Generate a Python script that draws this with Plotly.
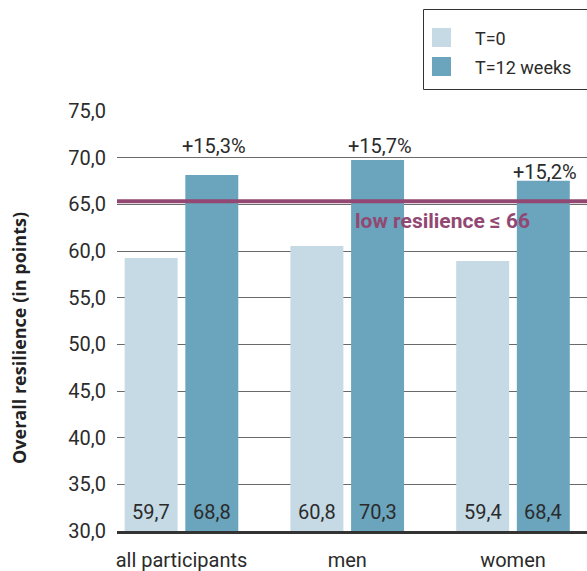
import plotly.graph_objects as go

# ---------------- data ----------------
categories = ["all participants", "men", "women"]
series_names = ["T=0", "T=12 weeks"]
t0_values = [59.25, 60.54, 58.93]          # bar heights as drawn
t12_values = [68.14, 69.75, 67.53]
t0_labels = ["59,7", "60,8", "59,4"]        # printed values
t12_labels = ["68,8", "70,3", "68,4"]
change_labels = ["+15,3%", "+15,7%", "+15,2%"]
change_label_y = [71.25, 71.25, 68.5]
value_label_y = 32.04
threshold_value = 65.33
threshold_label = "low resilience ≤ 66"
threshold_label_y = 63.2
y_tick_values = [30, 35, 40, 45, 50, 55, 60, 65, 70, 75]
y_title = "Overall resilience (in points)"

# ---------------- style ----------------
W, H = 587, 571
# plot area in pixels: x 117..587, y 111..531
PL, PR, PT, PB = 117, 587, 111, 531
PW, PH = PR - PL, PB - PT
ML, MT, MR, MB = PL, PT, W - PR, H - PB
LIGHT = "#c5dae5"
DARK = "#6aa4bd"
PURPLE = "#924872"
TEXT = "#2b2b2b"
FONT = "Roboto"


def px(x):
    return (x - PL) / PW


def py(y):
    return (PB - y) / PH


BAR_SHIFT = 30.3

fig = go.Figure()
fig.add_trace(go.Bar(x=categories, y=t0_values, name=series_names[0],
                     marker=dict(color=LIGHT, line=dict(width=0)), showlegend=False))
fig.add_trace(go.Bar(x=categories, y=t12_values, name=series_names[1],
                     marker=dict(color=DARK, line=dict(width=0)), showlegend=False))

annotations = []
for i, cat in enumerate(categories):
    annotations.append(dict(x=cat, y=value_label_y, xref="x", yref="y", text=t0_labels[i],
                            xshift=-BAR_SHIFT, showarrow=False, xanchor="center", yanchor="middle",
                            font=dict(family=FONT, size=20, color=TEXT)))
    annotations.append(dict(x=cat, y=value_label_y, xref="x", yref="y", text=t12_labels[i],
                            xshift=BAR_SHIFT, showarrow=False, xanchor="center", yanchor="middle",
                            font=dict(family=FONT, size=20, color=TEXT)))
    annotations.append(dict(x=cat, y=change_label_y[i], xref="x", yref="y", text=change_labels[i],
                            xshift=BAR_SHIFT + 2, showarrow=False, xanchor="center", yanchor="middle",
                            font=dict(family=FONT, size=20, color=TEXT)))

# threshold label
annotations.append(dict(x=px(442.5), y=threshold_label_y, xref="paper", yref="y",
                        text=threshold_label, showarrow=False, xanchor="center", yanchor="middle",
                        font=dict(family=FONT, size=21, color=PURPLE, weight="bold")))

# y-axis title
annotations.append(dict(x=px(19), y=py(338), xref="paper", yref="paper", text=y_title,
                        textangle=-90, showarrow=False, xanchor="center", yanchor="middle",
                        font=dict(family="Open Sans", size=18, color="#222", weight="bold")))

shapes = [
    dict(type="line", xref="paper", yref="y", x0=0, x1=1, y0=threshold_value, y1=threshold_value,
         line=dict(color=PURPLE, width=4), layer="above"),
    # legend frame
    dict(type="rect", xref="paper", yref="paper", x0=px(423.5), x1=px(620), y0=py(89.5), y1=py(9.5),
         line=dict(color="#333", width=1), fillcolor="rgba(0,0,0,0)"),
]
swatch_tops = [28, 57]
for name, color, top in zip(series_names, [LIGHT, DARK], swatch_tops):
    shapes.append(dict(type="rect", xref="paper", yref="paper", x0=px(432), x1=px(451),
                       y0=py(top + 19), y1=py(top), line=dict(width=0), fillcolor=color))
    annotations.append(dict(x=px(473), y=py(top + 11), xref="paper", yref="paper", text=name,
                            xanchor="left", yanchor="middle", showarrow=False,
                            font=dict(family=FONT, size=18, color=TEXT)))

fig.update_layout(
    width=W, height=H,
    margin=dict(l=ML, r=MR, t=MT, b=MB, autoexpand=False),
    paper_bgcolor="white", plot_bgcolor="white",
    barmode="group", bargap=0.268, bargroupgap=0.127,
    separators=",.",
    showlegend=False,
    annotations=annotations,
    shapes=shapes,
    xaxis=dict(type="category", categoryorder="array", categoryarray=categories,
               range=[-0.389, 2.4465], showgrid=False, showline=True, linecolor="#333",
               linewidth=3, ticks="", tickfont=dict(family=FONT, size=20, color=TEXT),
               ticklabelstandoff=9, automargin=False),
    yaxis=dict(range=[30, 75], tickvals=y_tick_values, tickformat=".1f", showgrid=True,
               gridcolor="#6a6a6a", gridwidth=1, zeroline=False, showline=False, ticks="",
               tickfont=dict(family=FONT, size=20, color=TEXT), ticklabelstandoff=10,
               automargin=False),
)

fig.write_html(
    "out.html",
    config={"displayModeBar": False},
    post_script="document.body.style.margin='0';document.body.style.overflow='hidden';",
)
